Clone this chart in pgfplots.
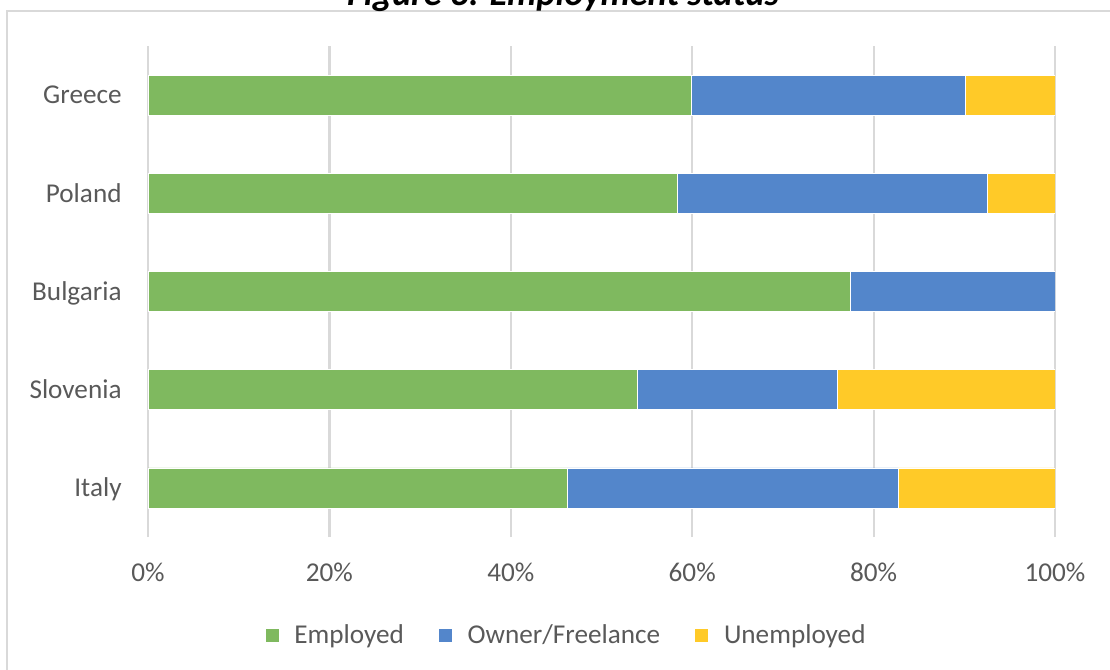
\documentclass[border=0pt]{standalone}
\usepackage{fontspec}
\setmainfont{Carlito}
\usepackage{pgfplots}
\pgfplotsset{compat=1.18}
\definecolor{cgreen}{RGB}{127,185,95}
\definecolor{cblue}{RGB}{83,134,203}
\definecolor{cyellow}{RGB}{255,202,40}
\definecolor{ctext}{RGB}{89,89,89}
\definecolor{cgrid}{RGB}{217,217,217}
\begin{document}
\begin{tikzpicture}[font=\fontsize{13.6}{16.2}\selectfont]
\path[use as bounding box] (0pt,0pt) rectangle (555pt,335pt);
\clip (0pt,0pt) rectangle (555pt,335pt);
\draw[cgrid, line width=1.2pt] (3.5pt,-5pt) -- (3.5pt,329.5pt) -- (560pt,329.5pt);
\node[anchor=base, font=\fontsize{18.2}{21}\selectfont\bfseries\itshape, inner sep=0pt] at (281.5pt,332.3pt) {Figure 3: Employment status};
\begin{axis}[
  at={(74pt,66.5pt)}, anchor=south west,
  scale only axis, width=453.5pt, height=245.5pt,
  xbar stacked, bar width=20pt,
  xmin=0, xmax=100, ymin=-0.5, ymax=4.5,
  ytick={0,1,2,3,4},
  yticklabels={Italy,Slovenia,Bulgaria,Poland,Greece},
  xtick={0,20,40,60,80,100},
  xticklabels={0\%,20\%,40\%,60\%,80\%,100\%},
  axis line style={draw=none},
  major tick style={draw=none},
  xmajorgrids,
  grid style={color=cgrid, line width=1.1pt},
  tick label style={text=ctext, inner sep=0pt, text height=8.7pt, text depth=0pt},
  yticklabel style={anchor=east, xshift=-13pt},
  xticklabel style={anchor=center, yshift=-18pt},
  legend style={at={(0.4598,-0.1996)}, anchor=center, draw=none, fill=none,
    legend columns=3, text=ctext,
    nodes={inner sep=0pt, text height=8.7pt, text depth=0pt, anchor=west},
    /tikz/every odd column/.append style={column sep=7.5pt},
    /tikz/every even column/.append style={column sep=17pt}},
  legend image code/.code={\fill[#1] (0pt,-3.5pt) rectangle (7pt,3.5pt);},
  every axis plot/.append style={draw=white, line width=0.4pt},
]
\addplot[fill=cgreen, draw=white] coordinates {(46.2,0) (54.0,1) (77.4,2) (58.4,3) (59.9,4)};
\addplot[fill=cblue, draw=white] coordinates {(36.5,0) (22.0,1) (22.6,2) (34.1,3) (30.2,4)};
\addplot[fill=cyellow, draw=white] coordinates {(17.3,0) (24.0,1) (0,2) (7.5,3) (9.9,4)};
\legend{Employed, Owner/Freelance, Unemployed}
\end{axis}
\end{tikzpicture}
\end{document}
